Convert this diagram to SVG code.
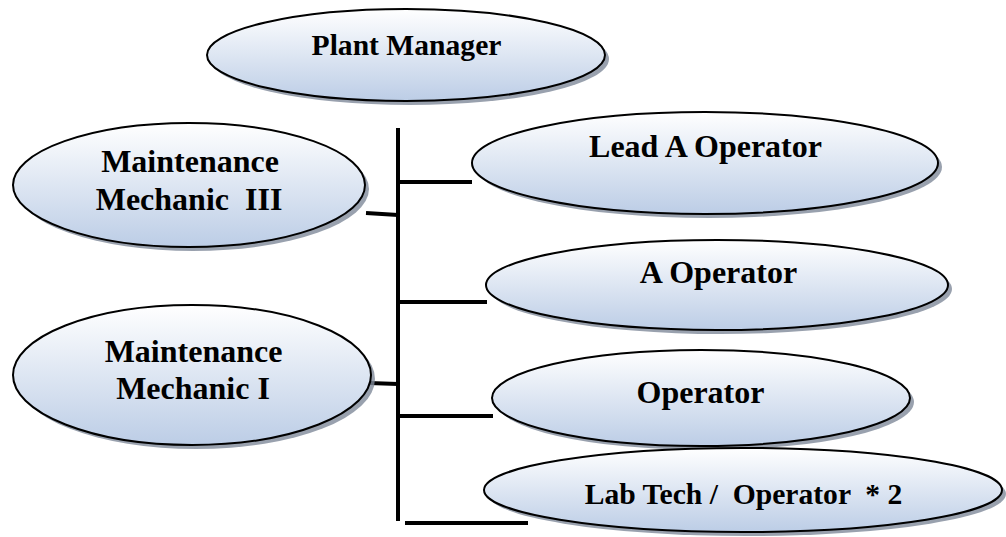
<svg xmlns="http://www.w3.org/2000/svg" width="1006" height="537" viewBox="0 0 1006 537">
<defs>
<linearGradient id="g" x1="0" y1="0" x2="0" y2="1">
<stop offset="0" stop-color="#ffffff"/>
<stop offset="1" stop-color="#bccde6"/>
</linearGradient>
<style>
.sh{fill:#7f8a9a;opacity:0.8}
.e{fill:url(#g);stroke:#000;stroke-width:2}
.t{font-family:'Liberation Serif','Times New Roman',serif;font-weight:bold;font-size:32px;fill:#000;text-anchor:middle;white-space:pre}
.s{font-size:29.6px}
.c{stroke:#000;stroke-width:4;fill:none}
</style>
</defs>
<rect width="1006" height="537" fill="#fff"/>
<g id="connectors">
<line class="c" x1="398" y1="128" x2="398" y2="521"/>
<line class="c" x1="398" y1="182" x2="472" y2="182"/>
<line class="c" x1="366" y1="213" x2="398" y2="215"/>
<line class="c" x1="398" y1="302" x2="487" y2="302"/>
<line class="c" x1="369" y1="383" x2="398" y2="384"/>
<line class="c" x1="398" y1="416" x2="493" y2="416"/>
<line class="c" x1="405" y1="523" x2="528" y2="523"/>
</g>
<g id="plant-manager">
<ellipse class="sh" cx="410" cy="59" rx="199" ry="46"/>
<ellipse class="e" cx="406" cy="55" rx="199" ry="46"/>
<text class="t s" x="406.5" y="55">Plant Manager</text>
</g>
<g id="mech-iii">
<ellipse class="sh" cx="193" cy="189" rx="176" ry="62"/>
<ellipse class="e" cx="189" cy="185" rx="176" ry="62"/>
<text class="t" x="190" y="172">Maintenance</text>
<text class="t" x="189" y="210">Mechanic  III</text>
</g>
<g id="lead-a">
<ellipse class="sh" cx="709" cy="167" rx="233" ry="51"/>
<ellipse class="e" cx="705" cy="163" rx="233" ry="51"/>
<text class="t" x="705.5" y="157">Lead A Operator</text>
</g>
<g id="a-operator">
<ellipse class="sh" cx="721" cy="289" rx="231" ry="45"/>
<ellipse class="e" cx="717" cy="285" rx="231" ry="45"/>
<text class="t" x="718.5" y="283">A Operator</text>
</g>
<g id="mech-i">
<ellipse class="sh" cx="196" cy="379" rx="179" ry="70"/>
<ellipse class="e" cx="192" cy="375" rx="179" ry="70"/>
<text class="t" x="193.5" y="362">Maintenance</text>
<text class="t" x="193" y="399">Mechanic I</text>
</g>
<g id="operator">
<ellipse class="sh" cx="705" cy="402" rx="209" ry="48"/>
<ellipse class="e" cx="701" cy="398" rx="209" ry="48"/>
<text class="t" x="700.5" y="403">Operator</text>
</g>
<g id="lab-tech">
<ellipse class="sh" cx="747" cy="494" rx="259" ry="42"/>
<ellipse class="e" cx="743" cy="490" rx="259" ry="42"/>
<text class="t s" x="743.5" y="504">Lab Tech /  Operator  * 2</text>
</g>
</svg>
